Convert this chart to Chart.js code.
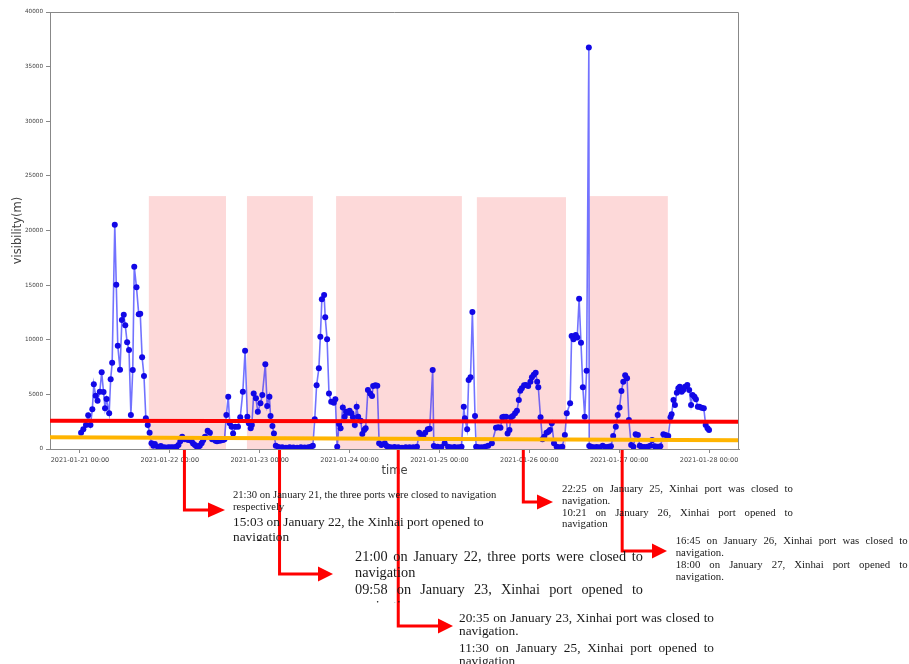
<!DOCTYPE html>
<html>
<head>
<meta charset="utf-8">
<script src="https://cdn.jsdelivr.net/npm/chart.js@4.4.1/dist/chart.umd.min.js"></script>
<style>
html, body { margin: 0; padding: 0; background: #fff; }
#wrap { position: relative; width: 909px; height: 664px; overflow: hidden; }
#wrap canvas { position: absolute; left: 0; top: 0; }
.note { position: absolute; font-family: "Liberation Serif", "Times New Roman", serif; color: #1a1a1a; overflow: hidden; }
.note p { margin: 0; text-align: justify; text-align-last: left; }
</style>
</head>
<body>
<div id="wrap">
  <canvas id="chart" width="909" height="664"></canvas>

  <div class="note" style="left:233px; top:489px; width:275px; height:52px;">
    <p style="font-size:10.6px; line-height:11.5px; text-align:left;">21:30 on January 21, the three ports were closed to navigation respectively</p>
    <p style="font-size:13.3px; line-height:15px; margin-top:2px; text-align:left;">15:03 on January 22, the Xinhai port opened to navigation</p>
  </div>

  <div class="note" style="left:355px; top:547.6px; width:288px; height:55px; font-size:14.3px; line-height:16.7px;">
    <p>21:00 on January 22, three ports were closed to navigation</p>
    <p>09:58 on January 23, Xinhai port opened to navigation</p>
  </div>

  <div class="note" style="left:459px; top:610.6px; width:255px; height:60px; font-size:13.3px; line-height:13.4px;">
    <p>20:35 on January 23, Xinhai port was closed to navigation.</p>
    <p style="margin-top:3.6px;">11:30 on January 25, Xinhai port opened to navigation</p>
  </div>

  <div class="note" style="left:562px; top:483px; width:231px; font-size:10.8px; line-height:11.8px;">
    <p>22:25 on January 25, Xinhai port was closed to navigation.</p>
    <p>10:21 on January 26, Xinhai port opened to navigation</p>
  </div>

  <div class="note" style="left:675.7px; top:534px; width:232px; font-size:10.8px; line-height:12px;">
    <p>16:45 on January 26, Xinhai port was closed to navigation.</p>
    <p>18:00 on January 27, Xinhai port opened to navigation.</p>
  </div>
</div>

<script>
// Time axis: hours counted from 2021-01-21 00:00
const dayTicks = [0, 24, 48, 72, 96, 120, 144, 168];
const dayLabels = [
  '2021-01-21 00:00', '2021-01-22 00:00', '2021-01-23 00:00', '2021-01-24 00:00',
  '2021-01-25 00:00', '2021-01-26 00:00', '2021-01-27 00:00', '2021-01-28 00:00'
];
const yTicks = [0, 5000, 10000, 15000, 20000, 25000, 30000, 35000, 40000];

// Observed visibility (m)
const hours = [
  0.3, 0.9, 1.6, 2.2, 2.8, 3.3, 3.7, 4.2, 4.7, 5.3, 5.8, 6.3, 6.7, 7.1, 7.8, 8.2, 8.6,
  9.3, 9.7, 10.1, 10.7, 11.2, 11.7, 12.1, 12.6, 13.1, 13.6, 14.1, 14.5, 15.1, 15.7, 16.1,
  16.6, 17.1, 17.6, 18.1, 18.6, 19.1, 19.6, 20.0, 20.8, 21.2, 21.6, 22.5, 23.0, 23.6, 24.0,
  24.5, 24.9, 25.4, 25.8, 26.3, 26.8, 27.3, 28.0, 28.9, 29.8, 30.2, 30.7, 31.1, 31.6, 32.0,
  32.5, 32.9, 33.4, 34.1, 34.7, 35.3, 36.2, 36.6, 37.1, 37.6, 38.2, 38.6, 39.1, 39.6, 40.0,
  40.5, 40.9, 41.5, 42.2, 42.8, 43.5, 44.1, 44.7, 45.1, 45.6, 45.9, 46.4, 47.0, 47.5, 48.2,
  48.7, 49.5, 50.0, 50.6, 50.9, 51.4, 51.8, 52.3, 53.0, 54.0, 55.0, 56.0, 57.0, 58.0, 59.0,
  60.0, 61.0, 61.7, 62.2, 62.7, 63.2, 63.8, 64.2, 64.6, 65.2, 65.5, 66.0, 66.5, 67.1, 67.8,
  68.2, 68.7, 69.2, 69.6, 70.2, 70.7, 71.1, 71.6, 72.0, 72.5, 72.9, 73.4, 73.9, 74.3, 75.0,
  75.4, 75.9, 76.3, 76.9, 77.5, 78.0, 78.3, 78.9, 79.4, 79.9, 80.5, 81.4, 81.9, 82.3, 83.0,
  84.0, 85.0, 86.0, 87.0, 88.0, 89.0, 90.0, 90.6, 91.3, 91.7, 92.2, 92.9, 93.4, 94.2, 94.5,
  95.5, 96.5, 97.4, 98.3, 99.0, 100.0, 101.0, 101.9, 102.5, 102.8, 103.4, 103.8, 104.3, 104.8,
  105.5, 105.8, 106.5, 107.3, 108.2, 109.0, 110.0, 111.1, 111.7, 112.3, 112.8, 113.2, 113.8,
  114.2, 114.7, 115.1, 115.6, 116.2, 116.7, 117.2, 117.6, 118.0, 118.6, 119.1, 119.7, 120.3,
  120.7, 121.2, 121.7, 122.1, 122.4, 123.0, 123.5, 124.0, 124.6, 125.1, 125.5, 126.0, 126.6,
  127.3, 128.0, 128.8, 129.5, 130.0, 130.9, 131.3, 131.8, 132.4, 132.8, 133.3, 133.8, 134.3,
  134.8, 135.3, 135.9, 136.0, 136.5, 137.2, 138.0, 138.8, 139.6, 140.4, 141.2, 141.8, 142.4,
  143.1, 143.6, 144.1, 144.6, 145.1, 145.6, 146.1, 146.6, 147.2, 147.8, 148.4, 149.0, 149.5,
  150.0, 150.8, 151.6, 152.3, 152.8, 153.5, 154.2, 155.0, 155.8, 156.4, 157.1, 157.7, 158.0,
  158.5, 158.9, 159.4, 159.8, 160.2, 160.7, 161.1, 161.6, 162.2, 162.7, 163.2, 163.6, 164.1,
  164.5, 165.0, 165.4, 166.0, 166.6, 167.1, 167.6, 168.0
];
const visibility = [
  1490, 1800, 2200, 3100, 2200, 3630, 5920, 4880, 4420, 5250, 7020, 5220, 3720, 4580, 3270, 6380, 7900,
  20530, 15040, 9460, 7260, 11810, 12290, 11320, 9770, 9060, 3110, 7230, 16690, 14800, 12330, 12390,
  8390, 6680, 2810, 2200, 1490, 520, 300, 460, 210, 180, 270, 150, 120, 150, 130,
  150, 140, 150, 200, 370, 700, 1130, 890, 820, 730, 500, 370, 250, 210, 300,
  520, 800, 1130, 1680, 1490, 890, 760, 700, 760, 780, 820, 900, 3110, 4790, 2350,
  2040, 1430, 2040, 2040, 2900, 5250, 9000, 2960, 2350, 1890, 2200, 5090, 4640, 3410, 4180,
  4940, 7750, 3940, 4790, 3020, 2100, 1430, 300, 180, 150, 120, 150, 130, 120, 150,
  140, 160, 200, 300, 2720, 5830, 7380, 10280, 13700, 14100, 12050, 10040, 5090, 4330, 4240,
  4550, 210, 2290, 1890, 3810, 2960, 3410, 3320, 3510, 3270, 2900, 2200, 3870, 2960, 2590,
  1370, 1740, 1890, 5400, 5090, 4850, 5770, 5830, 5800, 520, 370, 520, 270, 210, 150,
  180, 150, 120, 150, 150, 160, 200, 1490, 1280, 1070, 1490, 1800, 1860, 7230, 270,
  200, 180, 520, 200, 170, 180, 150, 210, 3870, 2810, 1800, 6320, 6560, 12540,
  3020, 210, 150, 150, 200, 300, 520, 1950, 1990, 1950, 2900, 2960, 2960,
  1430, 1740, 2900, 3020, 3270, 3510, 4490, 5340, 5550, 5830, 5860, 5770, 6160,
  6560, 6800, 6980, 6160, 5650, 2900, 890, 1130, 1490, 1580, 1740, 2350, 520,
  210, 150, 200, 1280, 3270, 4180, 10340, 10040, 10430, 10200, 13760, 9730, 5650,
  2960, 7170, 36740, 270, 200, 150, 180, 150, 300, 180, 200, 250, 1190,
  2040, 3110, 3810, 5310, 6160, 6750, 6470, 2650, 370, 210, 1340, 1280, 300,
  200, 180, 200, 300, 820, 250, 200, 250, 1340, 1280, 1190, 2900, 3180,
  4490, 4030, 5150, 5550, 5700, 5250, 5400, 5700, 5860, 5400, 4030, 4940, 4790,
  4550, 3870, 3870, 3780, 3720, 2200, 1890, 1740
];

// Reference lines across the whole time range
const refLineHours = [-8, 176];
const redLine = [2590, 2500];
const orangeLine = [1070, 800];

// Port closure periods (hours) and shading height (m)
const closedStart = [18.4, 44.6, 68.4, 106.0, 136.1];
const closedEnd = [39.0, 62.2, 102.0, 129.8, 157.0];
const closedTop = [23150, 23150, 23150, 23050, 23150];

// Moments pointed at by the notes below the axis (hours)
const noteHours = [27.9, 53.3, 85.0, 118.4, 144.8];

const shading = {
  id: 'closedShading',
  beforeDatasetsDraw(chart) {
    const { ctx, scales: { x, y } } = chart;
    ctx.save();
    ctx.fillStyle = 'rgba(250,128,128,0.3)';
    closedStart.forEach((s, i) => {
      const x0 = x.getPixelForValue(s);
      const x1 = x.getPixelForValue(closedEnd[i]);
      const yt = y.getPixelForValue(closedTop[i]);
      const yb = y.getPixelForValue(0);
      ctx.fillRect(x0, yt, x1 - x0, yb - yt);
    });
    ctx.restore();
  }
};

const frame = {
  id: 'frame',
  afterDatasetsDraw(chart) {
    const { ctx, chartArea: a } = chart;
    ctx.save();
    ctx.strokeStyle = '#888';
    ctx.lineWidth = 1;
    ctx.beginPath();
    ctx.moveTo(a.left, a.top + 0.5);
    ctx.lineTo(a.right - 0.5, a.top + 0.5);
    ctx.lineTo(a.right - 0.5, a.bottom);
    ctx.stroke();
    ctx.restore();
  }
};

const noteArrows = {
  id: 'noteArrows',
  afterDraw(chart, args, opts) {
    const { ctx, scales: { x, y } } = chart;
    const top = y.getPixelForValue(0) + 1;
    ctx.save();
    ctx.strokeStyle = '#ff0000';
    ctx.fillStyle = '#ff0000';
    ctx.lineWidth = 3;
    ctx.lineJoin = 'miter';
    noteHours.forEach((h, i) => {
      const px = x.getPixelForValue(h);
      const by = opts.bendY[i];
      const base = opts.headBase[i];
      const tip = opts.headTip[i];
      ctx.beginPath();
      ctx.moveTo(px, top);
      ctx.lineTo(px, by);
      ctx.lineTo(base, by);
      ctx.stroke();
      ctx.beginPath();
      ctx.moveTo(base, by - 7.5);
      ctx.lineTo(tip, by);
      ctx.lineTo(base, by + 7.5);
      ctx.closePath();
      ctx.fill();
    });
    ctx.restore();
  }
};

const axisFont = { family: 'DejaVu Sans', size: 11.5 };

new Chart(document.getElementById('chart'), {
  type: 'line',
  data: {
    datasets: [
      {
        data: refLineHours.map((h, i) => ({ x: h, y: redLine[i] })),
        borderColor: '#ff0000',
        borderWidth: 4,
        pointRadius: 0,
        order: 1
      },
      {
        data: refLineHours.map((h, i) => ({ x: h, y: orangeLine[i] })),
        borderColor: '#ffb400',
        borderWidth: 4,
        pointRadius: 0,
        order: 2
      },
      {
        data: hours.map((h, i) => ({ x: h, y: visibility[i] })),
        borderColor: 'rgba(20,20,255,0.6)',
        borderWidth: 1.6,
        pointRadius: 3,
        pointBackgroundColor: '#1208e6',
        pointBorderWidth: 0,
        tension: 0,
        order: 3
      }
    ]
  },
  options: {
    responsive: false,
    animation: false,
    devicePixelRatio: 1,
    layout: { padding: { left: 0, top: 12, right: 170, bottom: 185 } },
    plugins: {
      legend: { display: false },
      tooltip: { enabled: false },
      noteArrows: {
        bendY: [510, 574, 626, 502, 551],
        headBase: [208, 318, 438, 537, 652],
        headTip: [225, 333, 453, 553, 667]
      }
    },
    scales: {
      x: {
        type: 'linear',
        min: -8,
        max: 176,
        afterBuildTicks: s => { s.ticks = dayTicks.map(v => ({ value: v })); },
        afterFit: s => { s.height = 30; },
        ticks: {
          callback: v => dayLabels[dayTicks.indexOf(v)] ?? '',
          font: { family: 'DejaVu Sans', size: 6.5 },
          color: '#444',
          maxRotation: 0,
          autoSkip: false,
          padding: 3
        },
        grid: { drawOnChartArea: false, tickLength: 4, color: '#888' },
        border: { color: '#888' },
        title: { display: true, text: 'time', font: axisFont, color: '#444', padding: { top: 0, bottom: 1 } }
      },
      y: {
        min: 0,
        max: 40000,
        afterBuildTicks: s => { s.ticks = yTicks.map(v => ({ value: v })); },
        afterFit: s => { s.width = 50; },
        ticks: {
          callback: v => String(v),
          font: { family: 'DejaVu Sans', size: 5.7 },
          color: '#444',
          padding: 3
        },
        grid: { drawOnChartArea: false, tickLength: 4, color: '#888' },
        border: { color: '#888' },
        title: { display: true, text: 'visibility(m)', font: axisFont, color: '#444', padding: { top: 11, bottom: 0 } }
      }
    }
  },
  plugins: [shading, frame, noteArrows]
});
</script>
</body>
</html>
